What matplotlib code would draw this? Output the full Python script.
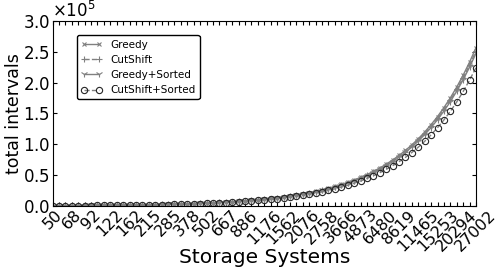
import matplotlib
matplotlib.use("Agg")
import matplotlib.pyplot as plt

# Labels shown on every third tick (one tick per storage-system size)
tick_labels = ["50", "68", "92", "122", "162", "215", "285", "378", "502", "667",
               "886", "1176", "1562", "2076", "2758", "3666", "4873", "6480",
               "8619", "11465", "15253", "20294", "27002"]

# total intervals, in thousands (67 points per series)
greedy = [0.48, 0.53, 0.58, 0.65, 0.71, 0.79, 0.87, 0.96, 1.06, 1.16, 1.27, 1.40,
          1.54, 1.69, 1.86, 2.04, 2.24, 2.47, 2.71, 2.98, 3.27, 3.59, 3.95, 4.34,
          4.77, 5.24, 5.76, 6.34, 6.97, 7.66, 8.42, 9.25, 10.17, 11.17, 12.28,
          13.50, 14.84, 16.31, 17.94, 19.72, 21.68, 23.84, 26.20, 28.80, 31.67,
          34.83, 38.29, 42.10, 46.29, 50.90, 55.97, 61.56, 67.71, 74.46, 81.88,
          90.05, 99.04, 108.9, 119.8, 131.8, 144.9, 159.4, 175.3, 192.8, 212.1,
          233.2, 256.5]
cutshift = [0.47, 0.52, 0.57, 0.64, 0.70, 0.77, 0.85, 0.94, 1.04, 1.14, 1.24, 1.37,
            1.51, 1.66, 1.82, 2.00, 2.20, 2.42, 2.66, 2.92, 3.20, 3.52, 3.87, 4.25,
            4.67, 5.14, 5.64, 6.21, 6.83, 7.51, 8.25, 9.07, 9.97, 10.95, 12.03,
            13.23, 14.54, 15.98, 17.58, 19.33, 21.25, 23.36, 25.68, 28.22, 31.04,
            34.13, 37.52, 41.26, 45.36, 49.88, 54.85, 60.33, 66.36, 72.97, 80.24,
            88.25, 97.06, 106.7, 117.4, 129.2, 142.0, 156.2, 171.8, 188.9, 207.9,
            228.5, 251.4]
greedy_sorted = [0.46, 0.51, 0.56, 0.63, 0.69, 0.76, 0.84, 0.93, 1.02, 1.12, 1.23,
                 1.35, 1.49, 1.63, 1.79, 1.97, 2.16, 2.38, 2.62, 2.88, 3.16, 3.46,
                 3.81, 4.19, 4.60, 5.06, 5.56, 6.12, 6.73, 7.39, 8.13, 8.93, 9.81,
                 10.78, 11.85, 13.03, 14.32, 15.74, 17.31, 19.03, 20.92, 23.01,
                 25.28, 27.79, 30.56, 33.61, 36.95, 40.63, 44.67, 49.12, 54.01,
                 59.41, 65.34, 71.85, 79.01, 86.90, 95.57, 105.1, 115.6, 127.2,
                 139.8, 153.8, 169.2, 186.1, 204.7, 225.0, 247.5]
cutshift_sorted = [0.42, 0.46, 0.51, 0.57, 0.62, 0.69, 0.76, 0.84, 0.93, 1.02, 1.11,
                   1.23, 1.35, 1.48, 1.63, 1.79, 1.96, 2.16, 2.37, 2.61, 2.86, 3.14,
                   3.46, 3.80, 4.17, 4.59, 5.04, 5.55, 6.10, 6.70, 7.37, 8.09, 8.90,
                   9.77, 10.75, 11.81, 12.99, 14.27, 15.70, 17.26, 18.97, 20.86,
                   22.93, 25.20, 27.71, 30.48, 33.50, 36.84, 40.50, 44.54, 48.97,
                   53.87, 59.25, 65.15, 71.65, 78.79, 86.66, 95.3, 104.8, 115.3,
                   126.8, 139.5, 153.4, 168.7, 185.6, 204.1, 224.4]

x = list(range(len(greedy)))

fig = plt.figure(figsize=(5, 2.75), dpi=100)
ax = fig.add_axes([0.105, 0.251, 0.847, 0.673])

line_col = "0.5"
ax.plot(x, [v * 1e3 for v in greedy], color=line_col, marker="x", ms=3.5,
        mew=0.8, linestyle="-", lw=1, label="Greedy")
ax.plot(x, [v * 1e3 for v in cutshift], color=line_col, marker="+", ms=4,
        mew=0.8, linestyle="--", lw=1, label="CutShift")
ax.plot(x, [v * 1e3 for v in greedy_sorted], color=line_col, marker="1", ms=5,
        mew=0.8, linestyle="-", lw=1, label="Greedy+Sorted")
ax.plot(x, [v * 1e3 for v in cutshift_sorted], color=line_col, marker="o", ms=4.5,
        mfc="none", mec="0.15", mew=0.8, linestyle="--", lw=1,
        label="CutShift+Sorted")

ax.set_xlim(0, len(x) - 1)
ax.set_ylim(0, 3.0e5)
ax.set_yticks([0, 0.5e5, 1.0e5, 1.5e5, 2.0e5, 2.5e5, 3.0e5])
ax.ticklabel_format(axis="y", style="sci", scilimits=(0, 0), useMathText=True)
ax.yaxis.get_offset_text().set_fontsize(12)

labels = []
for i in x:
    labels.append(tick_labels[i // 3] if i % 3 == 0 else "")
ax.set_xticks(x)
ax.set_xticklabels(labels, rotation=45, fontsize=11.5)
ax.tick_params(axis="both", direction="in", top=True, right=True, length=3)
ax.tick_params(axis="x", pad=1)
ax.tick_params(axis="y", labelsize=12, pad=1.5)

ax.set_xlabel("Storage Systems", fontsize=14.5)
ax.xaxis.set_label_coords(0.5, -0.225)
ax.set_ylabel("total intervals", fontsize=12.5)
ax.yaxis.set_label_coords(-0.07, 0.5)

ax.legend(loc="upper left", bbox_to_anchor=(0.045, 0.95), fontsize=7.5,
          numpoints=2, frameon=True, edgecolor="black", fancybox=True,
          framealpha=1)

fig.savefig("out.png", dpi=100)
